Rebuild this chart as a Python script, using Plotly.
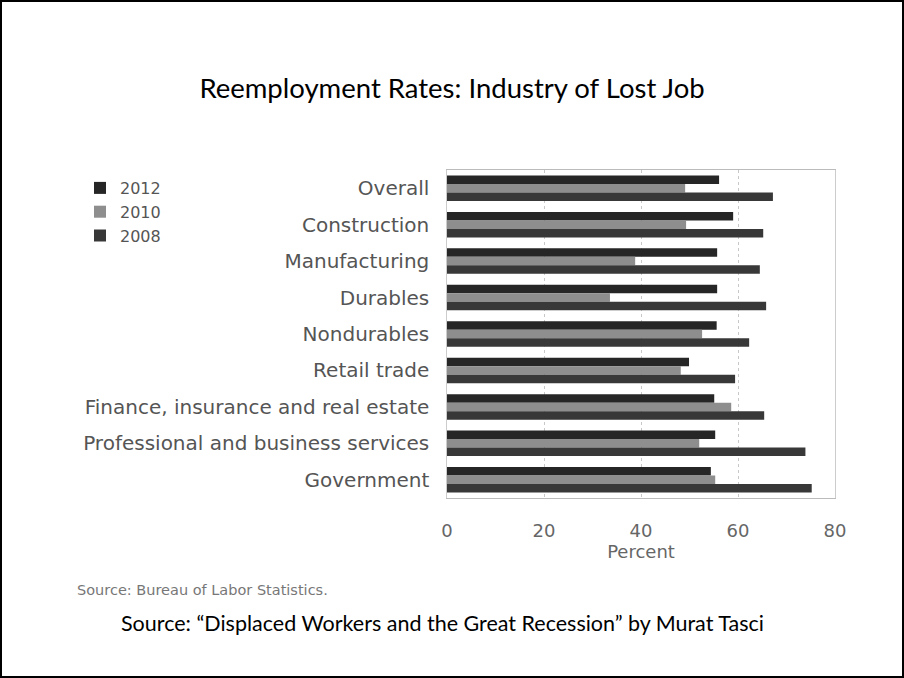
import plotly.graph_objects as go

categories = ["Overall", "Construction", "Manufacturing", "Durables", "Nondurables",
              "Retail trade", "Finance, insurance and real estate",
              "Professional and business services", "Government"]
v2012 = [56.1, 59.0, 55.7, 55.7, 55.6, 49.9, 55.1, 55.3, 54.4]
v2010 = [49.1, 49.3, 38.8, 33.6, 52.6, 48.2, 58.6, 52.0, 55.3]
v2008 = [67.2, 65.2, 64.5, 65.8, 62.3, 59.4, 65.4, 73.9, 75.2]
series_names = ["2012", "2010", "2008"]
series_colors = ["#262626", "#8e8e8e", "#383838"]
x_ticks = [0, 20, 40, 60, 80]

W, H = 904, 678
L, R, T, B = 447, 69, 170, 180
pw, ph = W - L - R, H - T - B

def px(x):
    return (x - L) / pw

def py(y):
    return (H - B - y) / ph

fig = go.Figure()
for name, vals, col in zip(series_names, [v2012, v2010, v2008], series_colors):
    fig.add_trace(go.Bar(y=categories, x=vals, name=name, orientation="h",
                         marker=dict(color=col, line=dict(width=0))))

fig.update_layout(
    width=W, height=H,
    margin=dict(l=L, r=R, t=T, b=B, autoexpand=False),
    paper_bgcolor="white", plot_bgcolor="white",
    barmode="group", bargap=0.3, bargroupgap=0,
    title=dict(text="Reemployment Rates: Industry of Lost Job", x=0.5, xanchor="center",
               y=1 - 88 / H, yanchor="middle", yref="container", automargin=False,
               font=dict(family="Lato", size=27.5, color="black")),
    xaxis=dict(range=[0, 80], tickvals=x_ticks, showgrid=True, gridcolor="#c8c8c8",
               griddash="dot", gridwidth=1, zeroline=False, showline=True, linecolor="#bbbbbb",
               mirror=True, ticks="", automargin=False, ticklabelstandoff=16,
               tickfont=dict(family="DejaVu Sans", size=18, color="#666"),
               title=dict(text="Percent", font=dict(family="DejaVu Sans", size=18, color="#666"),
                          standoff=4)),
    yaxis=dict(autorange="reversed", showgrid=False, showline=True, linecolor="#cccccc",
               mirror=True, ticks="", ticksuffix="  ", automargin=False,
               tickfont=dict(family="DejaVu Sans", size=20, color="#555")),
    legend=dict(xref="container", yref="container", x=80 / W, y=1 - 171 / H,
                xanchor="left", yanchor="top", traceorder="normal",
                font=dict(family="DejaVu Sans", size=16, color="#555"),
                itemwidth=30, tracegroupgap=0, bgcolor="rgba(0,0,0,0)"),
    annotations=[
        dict(text="Source: Bureau of Labor Statistics.", xref="paper", yref="paper",
             x=px(75), y=py(590), xanchor="left", yanchor="middle", showarrow=False,
             font=dict(family="DejaVu Sans", size=14.5, color="#777")),
        dict(text="Source: \u201cDisplaced Workers and the Great Recession\u201d by Murat Tasci",
             xref="paper", yref="paper", x=px(442), y=py(623), xanchor="center",
             yanchor="middle", showarrow=False,
             font=dict(family="Lato", size=21.5, color="black")),
    ],
    shapes=[dict(type="rect", xref="paper", yref="paper", x0=px(1), x1=px(903),
                 y0=py(677), y1=py(1), line=dict(color="black", width=2), layer="above")],
)

fig.write_html("out.html", config={"displayModeBar": False},
               post_script="document.body.style.margin='0';document.body.style.overflow='hidden';")
